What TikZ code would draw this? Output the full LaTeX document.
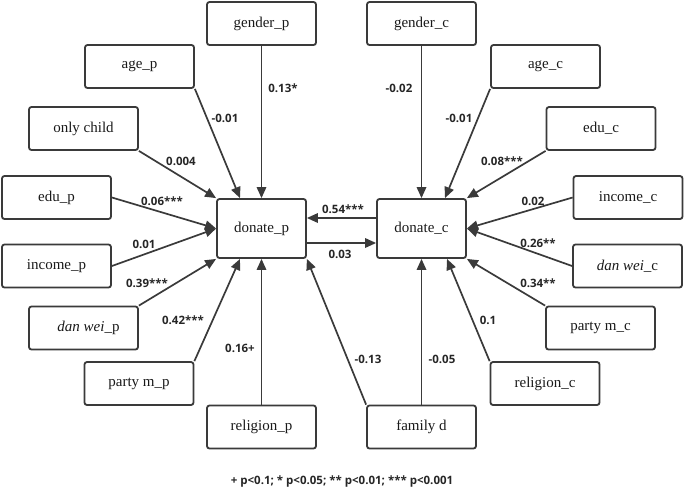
\documentclass[tikz,border=0pt]{standalone}
\usepackage{fontspec}
\setmainfont{Liberation Serif}
\newfontfamily\labfont{Open Sans}
\usetikzlibrary{arrows.meta}
\definecolor{ln}{HTML}{3A3A3A}
\begin{document}
\begin{tikzpicture}[x=1pt,y=-1pt,
 box/.style={draw=ln, line width=1.8pt, rounded corners=2.5pt, minimum width=109pt, minimum height=43pt, inner sep=0pt, font=\fontsize{15}{17}\selectfont, text=black!90},
 big/.style={box, minimum width=89pt, minimum height=59pt},
 arr/.style={draw=ln, line width=1.7pt, -{Triangle[length=11pt,width=9.5pt]}},
 lab/.style={font=\labfont\bfseries\fontsize{11.5}{13}\selectfont, text=black!85, inner sep=1pt}]
\useasboundingbox (0,0) rectangle (685,491);
% left side
\node[box] (genp) at (261.5,23.5) {gender\_p};
\node[box] (agep) at (139.5,66.5) {age\_p};
\node[box] (only) at (83.5,128.5) {only child};
\node[box] (edup) at (56.5,197.5) {edu\_p};
\node[big] (dp) at (261.5,228.5) {donate\_p};
\node[box] (incp) at (56.5,266) {income\_p};
\node[box] (danp) at (83.5,328) {\hspace{10pt}{\itshape dan wei}\_p};
\node[box] (partp) at (139,383.5) {party m\_p};
\node[box] (relp) at (261.5,427) {religion\_p};
% right side
\node[box] (genc) at (421.5,23.5) {gender\_c};
\node[box] (agec) at (545.5,66.5) {age\_c};
\node[box] (educ) at (601,128.5) {edu\_c};
\node[box] (incc) at (628,197.5) {income\_c};
\node[big] (dc) at (421.5,228.5) {donate\_c};
\node[box] (danc) at (627.5,266) {{\itshape dan wei}\_c};
\node[box] (partc) at (600.5,328) {party m\_c};
\node[box] (relc) at (545,383.5) {religion\_c};
\node[box] (fam) at (421.5,427) {family d};
% arrows to donate_p
\draw[arr] (genp.south) -- (dp.north);
\draw[arr] (agep.south east) -- ([xshift=-21.5pt]dp.north);
\draw[arr] (only.south east) -- (dp.north west);
\draw[arr] (edup.east) -- (dp.west);
\draw[arr] (incp.east) -- (dp.west);
\draw[arr] (danp.north east) -- (dp.south west);
\draw[arr] (partp.north east) -- ([xshift=-21.5pt]dp.south);
\draw[arr] (relp.north) -- (dp.south);
\draw[arr] (fam.north west) -- (dp.south east);
% arrows to donate_c
\draw[arr] (genc.south) -- (dc.north);
\draw[arr] (agec.south west) -- ([xshift=23.5pt]dc.north);
\draw[arr] (educ.south west) -- (dc.north east);
\draw[arr] (incc.west) -- (dc.east);
\draw[arr] (danc.west) -- (dc.east);
\draw[arr] (partc.north west) -- (dc.south east);
\draw[arr] (relc.north west) -- ([xshift=25.5pt]dc.south);
\draw[arr] (fam.north) -- (dc.south);
% reciprocal
\draw[arr] ([yshift=10.5pt]dc.west) -- ([yshift=10.5pt]dp.east);
\draw[arr] ([yshift=-14.5pt]dp.east) -- ([yshift=-14.5pt]dc.west);
% labels
\node[lab] (l1) at (283,88) {0.13*};
\node[lab] (l2) at (225,118) {-0.01};
\node[lab] (l3) at (181,161) {0.004};
\node[lab] (l4) at (162,201) {0.06***};
\node[lab] (l5) at (144,244) {0.01};
\node[lab] (l6) at (147,283) {0.39***};
\node[lab] (l7) at (183,320) {0.42***};
\node[lab] (l8) at (240,348) {0.16+};
\node[lab] (l9) at (368,359) {-0.13};
\node[lab] (l10) at (442,359) {-0.05};
\node[lab] (l11) at (488,320) {0.1};
\node[lab] (l12) at (538,283) {0.34**};
\node[lab] (l13) at (538,243) {0.26**};
\node[lab] (l14) at (533,201) {0.02};
\node[lab] (l15) at (502,161) {0.08***};
\node[lab] (l16) at (459,118) {-0.01};
\node[lab] (l17) at (399,88) {-0.02};
\node[lab] (l18) at (343,209) {0.54***};
\node[lab] (l19) at (340,254) {0.03};
\node[lab] (note) at (342,482) {+ p<0.1; * p<0.05; ** p<0.01; *** p<0.001};
\end{tikzpicture}
\end{document}
